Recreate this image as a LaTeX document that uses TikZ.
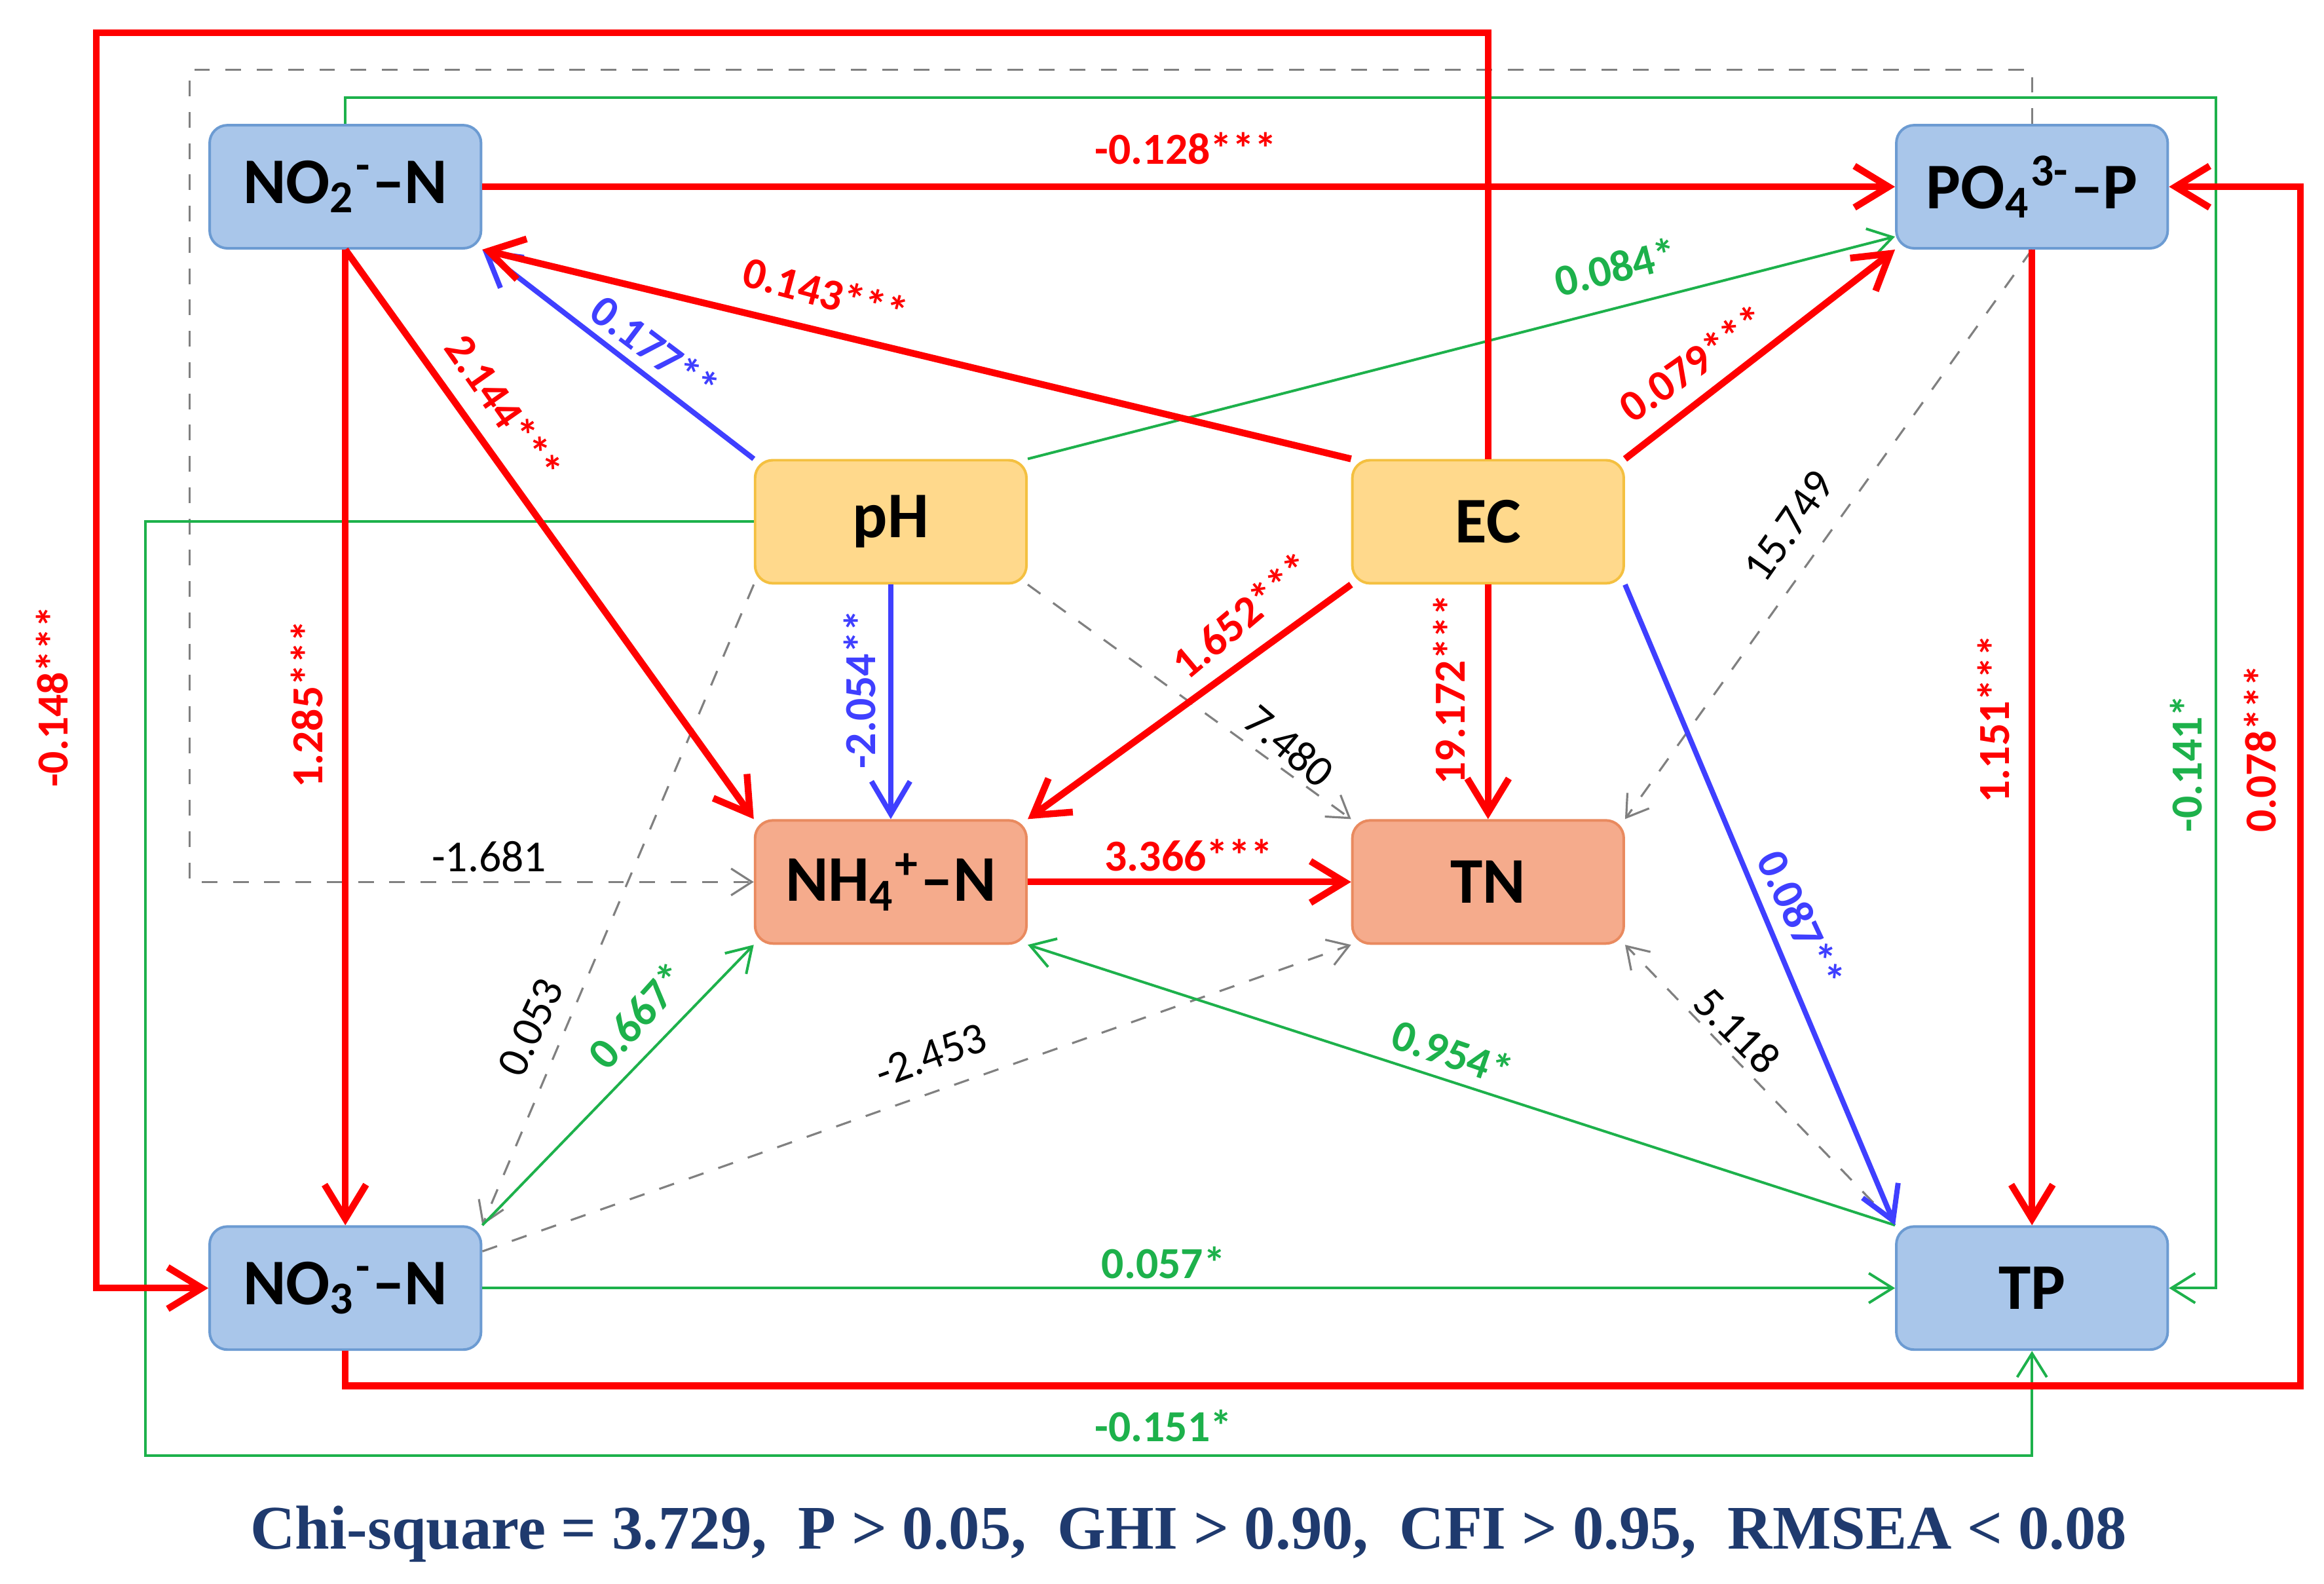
\documentclass[tikz,border=0pt]{standalone}
\usepackage{fontspec}
\setmainfont{Carlito}
\newfontfamily\serifb{Liberation Serif}
\usetikzlibrary{arrows.meta,calc}
\definecolor{rd}{HTML}{FF0000}
\definecolor{bl}{HTML}{3F3FFF}
\definecolor{gr}{HTML}{1DB14B}
\definecolor{gy}{HTML}{808080}
\definecolor{bfill}{HTML}{A9C6EA}
\definecolor{bdraw}{HTML}{6C9BD2}
\definecolor{yfill}{HTML}{FFD98C}
\definecolor{ydraw}{HTML}{F4C040}
\definecolor{sfill}{HTML}{F5AB8C}
\definecolor{sdraw}{HTML}{E98A5F}
\definecolor{navy}{HTML}{1F3A6E}
\tikzset{
 box/.style={rounded corners=1.2mm,minimum width=1.83cm,minimum height=0.83cm,line width=0.5pt,font=\fontsize{12.5}{12.5}\selectfont\bfseries,inner sep=0pt},
 bbox/.style={box,fill=bfill,draw=bdraw},
 ybox/.style={box,fill=yfill,draw=ydraw},
 sbox/.style={box,fill=sfill,draw=sdraw},
 red/.style={draw=rd,line width=1.3pt,-{Straight Barb[length=2.3mm,width=2.8mm]}},
 blu/.style={draw=bl,line width=1pt,-{Straight Barb[length=2.2mm,width=2.6mm]}},
 grn/.style={draw=gr,line width=0.5pt,-{Straight Barb[length=1.6mm,width=2mm]}},
 dsh/.style={draw=gy,line width=0.4pt,dashed,-{Straight Barb[length=1.4mm,width=1.8mm]}},
 lab/.style={font=\fontsize{8.5}{8.5}\selectfont\bfseries,inner sep=0pt},
 rl/.style={lab,text=rd},
 bll/.style={lab,text=bl},
 gl/.style={lab,text=gr},
 kl/.style={font=\fontsize{8.5}{8.5}\selectfont,inner sep=0pt,text=black},
}
\begin{document}
\begin{tikzpicture}[x=0.01cm,y=-0.01cm]
\useasboundingbox (0,0) rectangle (1568,1068.6);
\fill[white] (0,0) rectangle (1568,1068.6);
% nodes
\node[bbox] (no2) at (233,126) {NO\textsubscript{2}\textsuperscript{-}–N};
\node[bbox] (po4) at (1371,126) {PO\textsubscript{4}\textsuperscript{3-}–P};
\node[ybox] (ph) at (601,352) {pH};
\node[ybox] (ec) at (1004,352) {EC};
\node[sbox] (nh4) at (601,595) {NH\textsubscript{4}\textsuperscript{+}–N};
\node[sbox] (tn) at (1004,595) {TN};
\node[bbox] (no3) at (233,869) {NO\textsubscript{3}\textsuperscript{-}–N};
\node[bbox] (tp) at (1371,869) {TP};
% route coordinates
\coordinate (r1) at (65,22);
\coordinate (r2) at (1552,935);
\coordinate (g1) at (1495,66);
\coordinate (g2) at (98,982);
\coordinate (d1) at (128,47);
% dashed
\draw[dsh] (po4.north) |- (d1) |- (nh4.west);
\draw[dsh] (ph.south east) -- (tn.north west);
\draw[dsh] (po4.south) -- (tn.north east);
\draw[dsh] (ph.south west) -- (no3.north east);
\draw[dsh] (no3.15) -- (tn.south west);
\draw[dsh] (tp.north west) -- (tn.south east);
% green
\draw[grn] (ph.north east) -- (po4.200);
\draw[grn] (no2.north) |- (g1) |- (tp.east);
\draw[grn] (ph.west) -| (g2) -| (tp.south);
\draw[grn] (no3.north east) -- (nh4.south west);
\draw[grn] (no3.east) -- (tp.west);
\draw[grn] (tp.north west) -- (nh4.south east);
% blue
\draw[blu] (ph.north west) -- (no2.south east);
\draw[blu] (ph.south) -- (nh4.north);
\draw[blu] (ec.south east) -- (tp.north west);
% red
\draw[red] (ec.north) |- (r1) |- (no3.west);
\draw[red] (no2.east) -- (po4.west);
\draw[red] (ec.north west) -- (no2.south east);
\draw[red] (no2.south) -- (nh4.north west);
\draw[red] (no2.south) -- (no3.north);
\draw[red] (ec.north east) -- (po4.south west);
\draw[red] (ec.south west) -- (nh4.north east);
\draw[red] (ec.south) -- (tn.north);
\draw[red] (nh4.east) -- (tn.west);
\draw[red] (po4.south) -- (tp.north);
\draw[red] (no3.south) |- (r2) |- (po4.east);
% labels
\node[rl,rotate=90] (l1) at (35,470) {-0.148***};
\node[rl] (l2) at (800,100) {-0.128***};
\node[rl,rotate=-15] (l3) at (557,197) {0.143***};
\node[rl,rotate=-55] (l4) at (340,275) {2.144***};
\node[rl,rotate=90] (l5) at (207,475) {1.285***};
\node[rl,rotate=35] (l6) at (1142,245) {0.079***};
\node[rl,rotate=40] (l7) at (838,415) {1.652***};
\node[rl,rotate=90] (l8) at (978,465) {19.172***};
\node[rl] (l9) at (802,577) {3.366***};
\node[rl,rotate=90] (l10) at (1345,485) {1.151***};
\node[rl,rotate=90] (l11) at (1525,505) {0.078***};
\node[bll,rotate=-37] (l12) at (442,235) {0.177**};
\node[bll,rotate=90] (l13) at (580,465) {-2.054**};
\node[bll,rotate=-65] (l14) at (1215,620) {0.087**};
\node[gl,rotate=14] (l15) at (1090,180) {0.084*};
\node[gl,rotate=90] (l16) at (1475,515) {-0.141*};
\node[gl] (l17) at (785,962) {-0.151*};
\node[gl,rotate=48] (l18) at (430,685) {0.667*};
\node[gl] (l19) at (785,852) {0.057*};
\node[gl,rotate=-19] (l20) at (980,710) {0.954*};
\node[kl] (l21) at (330,578) {-1.681};
\node[kl,rotate=-40] (l22) at (870,503) {7.480};
\node[kl,rotate=55] (l23) at (1207,355) {15.749};
\node[kl,rotate=65] (l24) at (358,693) {0.053};
\node[kl,rotate=20] (l25) at (628,712) {-2.453};
\node[kl,rotate=-45] (l26) at (1172,695) {5.118};
\node[text=navy,inner sep=0pt,font=\serifb\fontsize{11.9}{11.9}\selectfont\bfseries] (cap) at (802,1035) {Chi-square = 3.729,\ \ P > 0.05,\ \ GHI > 0.90,\ \ CFI > 0.95,\ \ RMSEA < 0.08};
\end{tikzpicture}
\end{document}
